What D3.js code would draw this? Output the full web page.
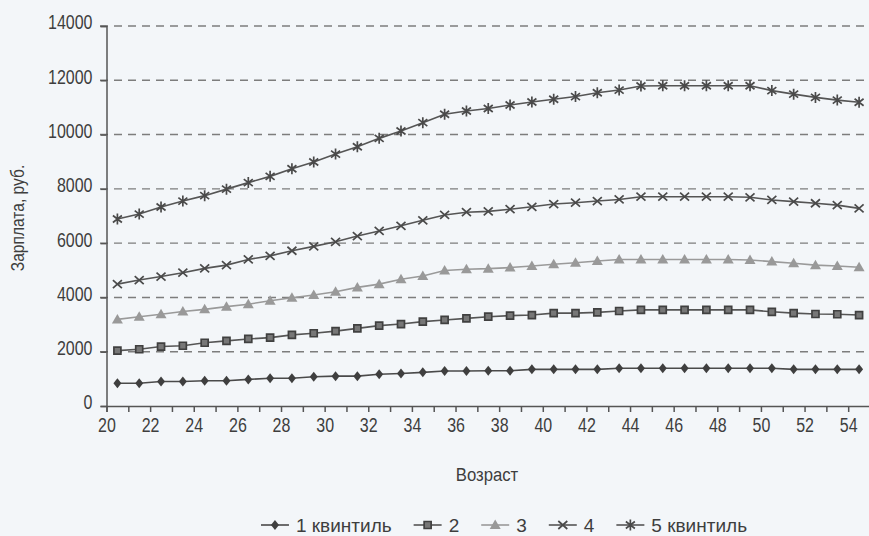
<!DOCTYPE html>
<html>
<head>
<meta charset="utf-8">
<script src="https://cdn.jsdelivr.net/npm/d3@7"></script>
<style>
  body { margin: 0; background: #f3f6f9; }
  svg text { font-family: "Liberation Sans", Arial, sans-serif; fill: #3e3e3e; }
</style>
</head>
<body>
<svg id="chart" width="869" height="536"></svg>
<script>
// ages (one category per year)
const ages = [20, 21, 22, 23, 24, 25, 26, 27, 28, 29, 30, 31, 32, 33, 34, 35, 36, 37,
              38, 39, 40, 41, 42, 43, 44, 45, 46, 47, 48, 49, 50, 51, 52, 53, 54]

// salary by quintile, rub.
const q1 = [840, 840, 900, 900, 930, 930, 980, 1020, 1020, 1080, 1100, 1100, 1170, 1200, 1240, 1290, 1290, 1300,
            1300, 1350, 1350, 1350, 1350, 1390, 1390, 1390, 1390, 1390, 1390, 1390, 1390, 1350, 1350, 1350, 1350]
const q2 = [2040, 2090, 2190, 2220, 2330, 2400, 2470, 2520, 2620, 2680, 2760, 2860, 2960, 3020, 3110, 3170, 3230, 3290,
            3330, 3350, 3420, 3420, 3450, 3500, 3540, 3540, 3540, 3540, 3540, 3540, 3470, 3420, 3390, 3380, 3350]
const q3 = [3190, 3290, 3380, 3480, 3560, 3660, 3750, 3880, 3990, 4090, 4210, 4370, 4490, 4670, 4790, 4990, 5040, 5060,
            5100, 5160, 5220, 5280, 5340, 5400, 5400, 5400, 5400, 5400, 5400, 5380, 5320, 5260, 5190, 5160, 5110]
const q4 = [4490, 4640, 4770, 4910, 5070, 5190, 5400, 5530, 5720, 5880, 6050, 6260, 6450, 6640, 6840, 7040, 7140, 7170,
            7250, 7340, 7440, 7490, 7550, 7610, 7710, 7710, 7710, 7710, 7710, 7690, 7590, 7530, 7470, 7400, 7280]
const q5 = [6890, 7070, 7330, 7550, 7750, 7990, 8230, 8460, 8740, 8990, 9280, 9550, 9860, 10130, 10440, 10750, 10870, 10960,
            11090, 11200, 11300, 11400, 11540, 11640, 11790, 11800, 11800, 11800, 11800, 11800, 11620, 11490, 11370, 11270, 11190]

const seriesNames = ["1 квинтиль", "2", "3", "4", "5 квинтиль"]
const yTicks = [0, 2000, 4000, 6000, 8000, 10000, 12000, 14000]
const xTicks = [20, 21, 22, 23, 24, 25, 26, 27, 28, 29, 30, 31, 32, 33, 34, 35, 36, 37,
                38, 39, 40, 41, 42, 43, 44, 45, 46, 47, 48, 49, 50, 51, 52, 53, 54, 55]

// no condensed font installed -> squeeze text horizontally
function condense(sel, k) {
  sel.each(function () {
    const t = d3.select(this)
    const x0 = +t.attr("x") || 0
    t.attr("x", x0 / k).attr("transform", ((t.attr("transform") || "") + " scale(" + k + ",1)").trim())
  })
}

// marker glyphs
const diamond = { draw(c) { c.moveTo(0, -5); c.lineTo(4, 0); c.lineTo(0, 5); c.lineTo(-4, 0); c.closePath() } }
const square = { draw(c) { c.rect(-3.5, -3.5, 7, 7) } }
const triangle = { draw(c) { c.moveTo(0, -5.5); c.lineTo(5.5, 4); c.lineTo(-5.5, 4); c.closePath() } }
const cross = { draw(c) { c.moveTo(-4.5, -4); c.lineTo(4.5, 4); c.moveTo(-4.5, 4); c.lineTo(4.5, -4) } }
const aster = { draw(c) {
  c.moveTo(-4.5, -3.5); c.lineTo(4.5, 3.5); c.moveTo(-4.5, 3.5); c.lineTo(4.5, -3.5)
  c.moveTo(0, -5.5); c.lineTo(0, 5.5)
} }

const series = [
  { name: seriesNames[0], values: q1, line: "#4a4a4a", sym: diamond, fill: "#3f3f3f", stroke: "none" },
  { name: seriesNames[1], values: q2, line: "#555", sym: square, fill: "#777", stroke: "#404040" },
  { name: seriesNames[2], values: q3, line: "#9a9a9a", sym: triangle, fill: "#999", stroke: "none" },
  { name: seriesNames[3], values: q4, line: "#555", sym: cross, fill: "none", stroke: "#4a4a4a" },
  { name: seriesNames[4], values: q5, line: "#555", sym: aster, fill: "none", stroke: "#4a4a4a" }
]

const svg = d3.select("#chart")

var x = d3.scaleLinear().domain([20, 55]).range([106.5, 870])
var y = d3.scaleLinear().domain([0, 14000]).range([406, 26])

// dashed grid
svg.append("g")
  .selectAll("line")
  .data(yTicks.filter(d => d > 0))
  .enter().append("line")
  .attr("x1", 100).attr("x2", 869)
  .attr("y1", d => y(d)).attr("y2", d => y(d))
  .attr("stroke", "#7d7d7d")
  .attr("stroke-width", 1.4)
  .attr("stroke-dasharray", "8,6")

// y axis
const yAxis = svg.append("g")
  .attr("transform", "translate(" + x(20) + ",0)")
  .call(d3.axisLeft(y).tickValues(yTicks).tickSize(6).tickPadding(8).tickFormat(d => d))
yAxis.selectAll("text").attr("font-size", 19.5).attr("dy", "0.15em")

// x axis
const xAxis = svg.append("g")
  .attr("transform", "translate(0," + y(0) + ")")
  .call(d3.axisBottom(x).tickValues(xTicks).tickSize(6).tickPadding(6)
    .tickFormat(d => (d % 2 === 0 && d < 55) ? d : ""))
xAxis.selectAll("text").attr("font-size", 19.5)

svg.selectAll(".domain, .tick line").attr("stroke", "#555").attr("stroke-width", 1.5)
svg.selectAll(".tick text").attr("fill", "#3e3e3e").style("font-family", null)
condense(svg.selectAll(".tick text"), 0.82)

// titles
svg.append("text")
  .attr("transform", "translate(487,481) scale(0.88,1)")
  .attr("text-anchor", "middle")
  .attr("font-size", 19)
  .text("Возраст")

svg.append("text")
  .attr("transform", "translate(24,218) rotate(-90) scale(0.82,1)")
  .attr("text-anchor", "middle")
  .attr("font-size", 19)
  .text("Зарплата, руб.")

// lines + markers
var line = d3.line()
  .x((d, i) => x(ages[i] + 0.5))
  .y(d => y(d))

series.forEach(s => {
  svg.append("path")
    .datum(s.values)
    .attr("fill", "none")
    .attr("stroke", s.line)
    .attr("stroke-width", 1.6)
    .attr("d", line)

  svg.append("g")
    .selectAll("path")
    .data(s.values)
    .enter().append("path")
    .attr("d", d3.symbol().type(s.sym))
    .attr("transform", (d, i) => "translate(" + x(ages[i] + 0.5) + "," + y(d) + ")")
    .attr("fill", s.fill)
    .attr("stroke", s.stroke)
    .attr("stroke-width", s.stroke === "none" ? 0 : 1.7)
})

// legend
const legend = svg.append("g")
let lx = 0
series.forEach(s => {
  const g = legend.append("g").attr("transform", "translate(" + lx + ",0)")
  g.append("line").attr("x1", 0).attr("x2", 28).attr("y1", 0).attr("y2", 0)
    .attr("stroke", s.line).attr("stroke-width", 1.6)
  g.append("path").attr("d", d3.symbol().type(s.sym))
    .attr("transform", "translate(14,0)")
    .attr("fill", s.fill).attr("stroke", s.stroke)
    .attr("stroke-width", s.stroke === "none" ? 0 : 1.7)
  const t = g.append("text").attr("x", 35).attr("y", 7)
    .attr("font-size", 19).text(s.name)
  lx += 35 + t.node().getComputedTextLength() + 22
})
const lw = lx - 22
legend.attr("transform", "translate(" + (504 - lw / 2) + ",525)")
</script>
</body>
</html>
